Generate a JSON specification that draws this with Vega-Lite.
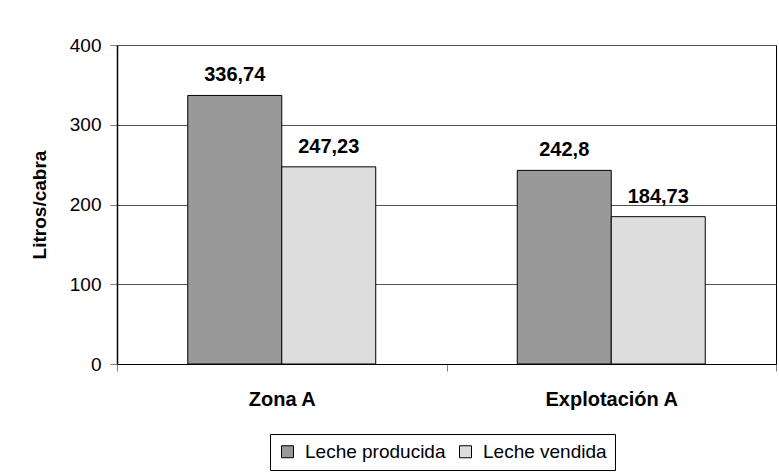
{
  "$schema": "https://vega.github.io/schema/vega-lite/v6.json",
  "width": 659,
  "height": 319,
  "autosize": {"type": "none"},
  "padding": {"left": 117, "top": 45, "right": 3, "bottom": 108},
  "background": "white",
  "config": {
    "font": "Liberation Sans",
    "view": {"stroke": "#000", "strokeWidth": 1}
  },
  "data": {
    "values": [
      {"grupo": "Zona A", "serie": "Leche producida", "valor": 336.74, "etiqueta": "336,74"},
      {"grupo": "Zona A", "serie": "Leche vendida", "valor": 247.23, "etiqueta": "247,23"},
      {"grupo": "Explotación A", "serie": "Leche producida", "valor": 242.8, "etiqueta": "242,8"},
      {"grupo": "Explotación A", "serie": "Leche vendida", "valor": 184.73, "etiqueta": "184,73"}
    ]
  },
  "encoding": {
    "x": {
      "field": "grupo", "type": "nominal", "sort": ["Zona A", "Explotación A"],
      "scale": {"paddingInner": 0, "paddingOuter": 0},
      "axis": {
        "title": null, "labelAngle": 0, "labelFontSize": 20, "labelFontWeight": "bold",
        "labelColor": "#000", "labelPadding": 18, "tickBand": "extent", "tickSize": 7,
        "tickColor": "#808080", "domainColor": "#000", "domainWidth": 1, "grid": false
      }
    },
    "xOffset": {
      "field": "serie", "type": "nominal", "sort": ["Leche producida", "Leche vendida"],
      "scale": {"paddingInner": 0, "paddingOuter": 0.7527}
    },
    "y": {
      "field": "valor", "type": "quantitative",
      "scale": {"domain": [0, 400], "nice": false},
      "axis": {
        "title": "Litros/cabra", "titleFontSize": 19, "titleFontWeight": "bold", "titleColor": "#000",
        "titlePadding": 20, "values": [0, 100, 200, 300, 400], "labelFontSize": 19, "labelColor": "#000",
        "labelPadding": 9, "tickSize": 7, "tickColor": "#808080", "domainColor": "#000", "domainWidth": 1.5,
        "grid": true, "gridColor": "#555", "gridWidth": 1
      }
    }
  },
  "layer": [
    {
      "mark": {"type": "bar", "stroke": "#000", "strokeWidth": 1},
      "encoding": {
        "color": {
          "field": "serie", "type": "nominal",
          "scale": {"domain": ["Leche producida", "Leche vendida"], "range": ["#999999", "#dddddd"]},
          "legend": {
            "title": null, "orient": "none", "legendX": 153, "legendY": 389, "direction": "horizontal",
            "strokeColor": "#000", "fillColor": "white", "padding": 8, "symbolType": "square",
            "symbolSize": 144, "symbolStrokeColor": "#000", "symbolStrokeWidth": 1, "symbolOpacity": 1,
            "labelFontSize": 19, "labelColor": "#000", "labelOffset": 8, "columnPadding": 10
          }
        }
      }
    },
    {
      "mark": {"type": "text", "fontWeight": "bold", "fontSize": 20, "dy": -14, "baseline": "alphabetic", "color": "#000"},
      "encoding": {"text": {"field": "etiqueta"}}
    }
  ]
}
